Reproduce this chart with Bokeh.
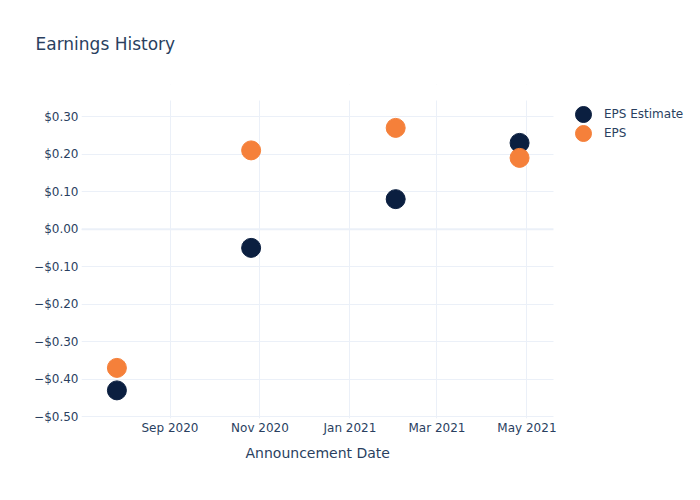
from datetime import datetime, timezone
from bokeh.plotting import figure
from bokeh.models import (ColumnDataSource, Range1d, DatetimeTickFormatter, BoxAnnotation,
                          FixedTicker, CustomJSTickFormatter, Legend, LegendItem, Span, Title)
from bokeh.embed import file_html
from bokeh.resources import INLINE

# data
dates = [datetime(2020, 7, 27), datetime(2020, 10, 26), datetime(2021, 2, 1), datetime(2021, 4, 26)]
eps_estimate = [-0.43, -0.05, 0.08, 0.23]
eps_actual = [-0.37, 0.21, 0.27, 0.19]
y_ticks = [-0.5, -0.4, -0.3, -0.2, -0.1, 0.0, 0.1, 0.2, 0.3]
x_tick_dates = [datetime(2020, 9, 1), datetime(2020, 11, 1), datetime(2021, 1, 1),
                datetime(2021, 3, 1), datetime(2021, 5, 1)]
series_names = ["EPS Estimate", "EPS"]

FONT = "DejaVu Sans"
TXT = "#2a3f5f"
GRID = "#ebf0f8"
NAVY = "#0b1f40"
ORANGE = "#f5803a"

def ms(d):
    return d.replace(tzinfo=timezone.utc).timestamp() * 1000

# plotting area of the data (the rest of the frame holds the legend)
x0, x1 = datetime(2020, 7, 3), datetime(2021, 5, 19)
y0, y1 = -0.505, 0.343
PLOT_W, FRAME_W = 472, 619
PLOT_H, FRAME_H = 318, 334
x_end = x0 + (x1 - x0) * (FRAME_W / PLOT_W)
y_end = y0 + (y1 - y0) * (FRAME_H / PLOT_H)

p = figure(frame_width=FRAME_W, frame_height=FRAME_H, output_backend="svg", toolbar_location=None,
           x_axis_type="datetime",
           x_range=Range1d(x0, x_end), y_range=Range1d(y0, y_end),
           min_border_left=81, min_border_right=0, min_border_top=0, min_border_bottom=82,
           title="Earnings History")
p.outline_line_color = None
p.background_fill_color = "white"
p.border_fill_color = "white"

p.title.text_font = FONT
p.title.text_font_size = "17px"
p.title.text_font_style = "normal"
p.title.text_color = TXT
p.title.offset = -46
p.title.standoff = 62

# axes
p.xaxis.ticker = FixedTicker(ticks=[ms(d) for d in x_tick_dates])
fmt = "%b %Y"
p.xaxis.formatter = DatetimeTickFormatter(days=fmt, months=fmt, years=fmt, hours=fmt,
                                          hourmin=fmt, minutes=fmt, seconds=fmt,
                                          minsec=fmt, milliseconds=fmt, microseconds=fmt)
p.yaxis.ticker = FixedTicker(ticks=y_ticks)
p.yaxis.formatter = CustomJSTickFormatter(code="""
    const v = Math.abs(tick) < 1e-9 ? 0 : tick;
    return (v < 0 ? '\u2212' : '') + '$' + Math.abs(v).toFixed(2);
""")
for ax in (p.xaxis[0], p.yaxis[0]):
    ax.axis_line_color = None
    ax.major_tick_line_color = None
    ax.minor_tick_line_color = None
    ax.major_tick_out = 0
    ax.major_tick_in = 0
    ax.minor_tick_out = 0
    ax.major_label_text_color = TXT
    ax.major_label_text_font = FONT
    ax.major_label_text_font_size = "12px"
p.xaxis.major_label_standoff = 2
p.yaxis.major_label_standoff = 3

# x-axis title, centred under the data area
xlabel = Title(text="Announcement Date", align="left", offset=164, standoff=10,
               text_font=FONT, text_font_size="14px", text_font_style="normal",
               text_color=TXT)
p.add_layout(xlabel, "below")

p.xgrid.grid_line_color = GRID
p.ygrid.grid_line_color = GRID
p.add_layout(Span(location=0, dimension="width", line_color=GRID, line_width=2, level="underlay"))

# white masks outside the data area (hide grid lines under title / legend)
p.add_layout(BoxAnnotation(left=ms(x1), fill_color="white", fill_alpha=1, line_color=None,
                           level="underlay"))
p.add_layout(BoxAnnotation(bottom=y1, fill_color="white", fill_alpha=1, line_color=None,
                           level="underlay"))

src_e = ColumnDataSource(dict(x=dates, y=eps_estimate))
src_a = ColumnDataSource(dict(x=dates, y=eps_actual))
r1 = p.scatter("x", "y", source=src_e, size=19, fill_color=NAVY, line_color=NAVY)
r2 = p.scatter("x", "y", source=src_a, size=19, fill_color=ORANGE, line_color=ORANGE)

common = dict(orientation="vertical",
              label_text_font=FONT, label_text_font_size="12px", label_text_color=TXT,
              background_fill_alpha=0, border_line_color=None,
              glyph_width=40, glyph_height=40, padding=0, margin=0,
              label_standoff=1, label_height=19)
leg1 = Legend(items=[LegendItem(label=series_names[0], renderers=[r1])],
              location=(482, 284), **common)
leg2 = Legend(items=[LegendItem(label=series_names[1], renderers=[r2])],
              location=(482, 265), **common)
p.add_layout(leg1, "center")
p.add_layout(leg2, "center")

open("out.html", "w").write(file_html(p, INLINE))
